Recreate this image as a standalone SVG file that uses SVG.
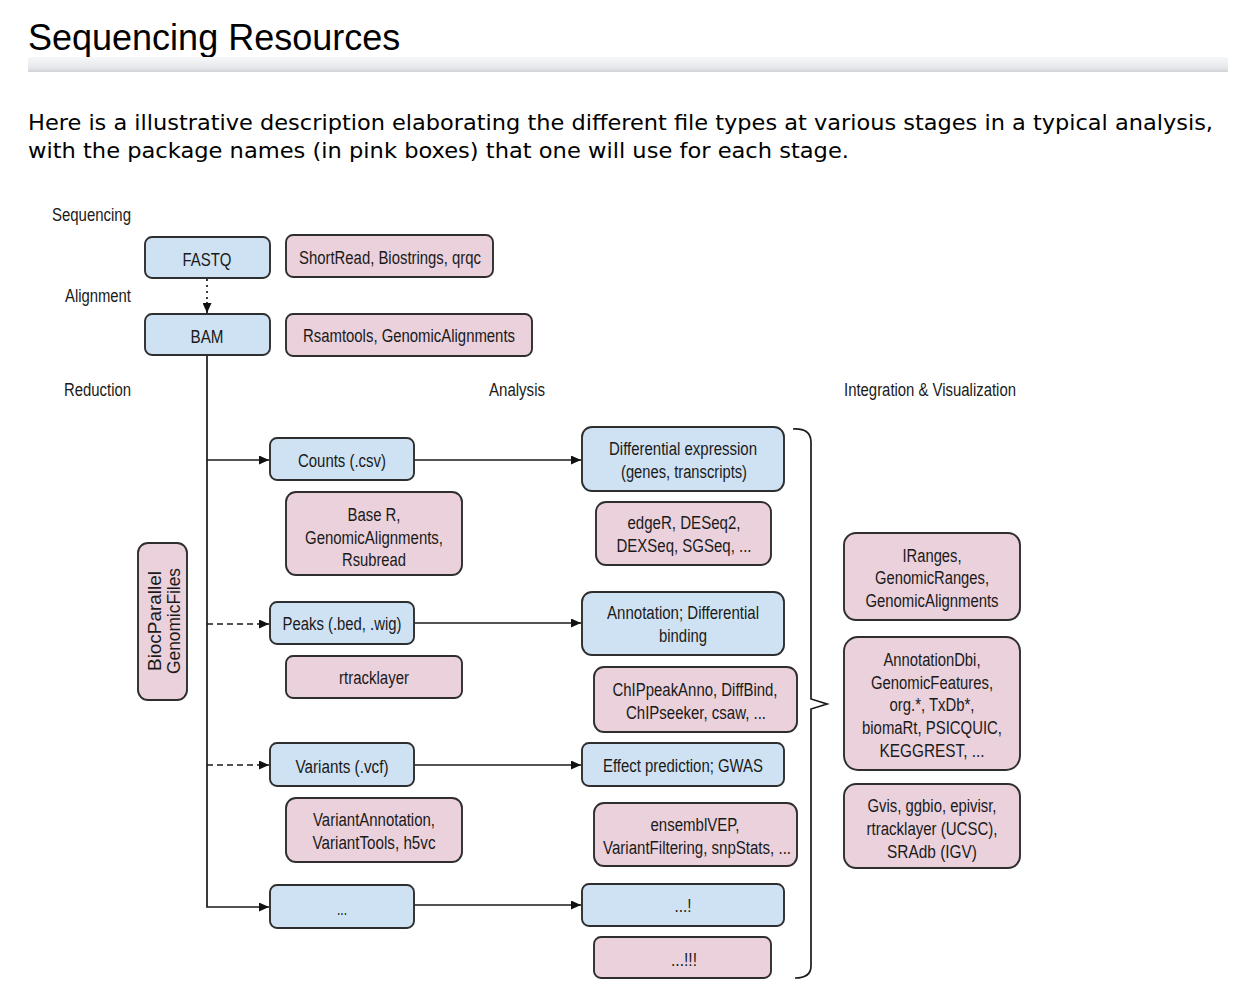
<svg xmlns="http://www.w3.org/2000/svg" width="1260" height="998" viewBox="0 0 1260 998">
<style>
.bg{fill:#ffffff}
.title{font-family:"Liberation Sans",Arial,sans-serif;font-size:36px;fill:#000}
.para{font-family:"DejaVu Sans",Verdana,sans-serif;font-size:21px;fill:#000}
.t{font-family:"Liberation Sans",Arial,sans-serif;font-size:18px;fill:#1a1a1a;text-anchor:middle}
.lab{font-family:"Liberation Sans",Arial,sans-serif;font-size:18px;fill:#1a1a1a}
.blue{fill:#cfe2f3;stroke:#2e2e2e;stroke-width:1.9}
.pink{fill:#ead1dc;stroke:#2e2e2e;stroke-width:1.9}
.ln{stroke:#1a1a1a;stroke-width:1.7;fill:none}
.dash{stroke:#1a1a1a;stroke-width:1.7;fill:none;stroke-dasharray:6 4}
.dot{stroke:#1a1a1a;stroke-width:1.7;fill:none;stroke-dasharray:2 4}
</style>
<defs>
<linearGradient id="rule" x1="0" y1="0" x2="0" y2="1">
<stop offset="0" stop-color="#f7f8f9"/>
<stop offset="0.75" stop-color="#e4e7ea"/>
<stop offset="1" stop-color="#cfd3d7"/>
</linearGradient>
<marker id="ah" viewBox="0 0 10 10" refX="10" refY="5" markerWidth="10" markerHeight="9" markerUnits="userSpaceOnUse" orient="auto" preserveAspectRatio="none">
<path d="M0,0 L10,5 L0,10 z" fill="#111"/>
</marker>
</defs>
<rect class="bg" x="0" y="0" width="1260" height="998"/>

<g id="header">
<text class="title" x="28" y="50">Sequencing Resources</text>
<rect x="28" y="57" width="1200" height="15" fill="url(#rule)"/>
<text class="para" x="28" y="130" textLength="1185" lengthAdjust="spacingAndGlyphs">Here is a illustrative description elaborating the different file types at various stages in a typical analysis,</text>
<text class="para" x="28" y="158" textLength="821" lengthAdjust="spacingAndGlyphs">with the package names (in pink boxes) that one will use for each stage.</text>
</g>

<g id="stage-labels">
<text class="lab" x="52" y="221" textLength="79" lengthAdjust="spacingAndGlyphs">Sequencing</text>
<text class="lab" x="65" y="302" textLength="66" lengthAdjust="spacingAndGlyphs">Alignment</text>
<text class="lab" x="64" y="396" textLength="67" lengthAdjust="spacingAndGlyphs">Reduction</text>
<text class="lab" x="489" y="396" textLength="56" lengthAdjust="spacingAndGlyphs">Analysis</text>
<text class="lab" x="844" y="396" textLength="172" lengthAdjust="spacingAndGlyphs">Integration &amp; Visualization</text>
</g>

<g id="connectors">
<path class="dot" d="M207,279 L207,302"/>
<path class="ln" d="M207,302 L207,313" marker-end="url(#ah)"/>
<path class="ln" d="M207,356 L207,907 L269,907" marker-end="url(#ah)"/>
<path class="ln" d="M207,460 L269,460" marker-end="url(#ah)"/>
<path class="dash" d="M207,624 L269,624" marker-end="url(#ah)"/>
<path class="dash" d="M207,765 L269,765" marker-end="url(#ah)"/>
<path class="ln" d="M414,460 L581,460" marker-end="url(#ah)"/>
<path class="ln" d="M414,623 L581,623" marker-end="url(#ah)"/>
<path class="ln" d="M414,765 L581,765" marker-end="url(#ah)"/>
<path class="ln" d="M414,905 L581,905" marker-end="url(#ah)"/>
<path class="ln" stroke-width="2" d="M793,429 Q811,428 811,442 L811,699 L827,704 L811,709 L811,966 Q811,978 795,978"/>
</g>

<g id="fastq"><rect class="blue" x="145" y="237" width="125" height="41" rx="7"/><text class="t" x="207" y="266" textLength="49" lengthAdjust="spacingAndGlyphs">FASTQ</text></g>
<g id="fastq-pkgs"><rect class="pink" x="286" y="235" width="207" height="42" rx="7"/><text class="t" x="390" y="264" textLength="182" lengthAdjust="spacingAndGlyphs">ShortRead, Biostrings, qrqc</text></g>
<g id="bam"><rect class="blue" x="145" y="314" width="125" height="41" rx="7"/><text class="t" x="207" y="343" textLength="33" lengthAdjust="spacingAndGlyphs">BAM</text></g>
<g id="bam-pkgs"><rect class="pink" x="286" y="314" width="246" height="42" rx="7"/><text class="t" x="409" y="342" textLength="212" lengthAdjust="spacingAndGlyphs">Rsamtools, GenomicAlignments</text></g>

<g id="biocparallel"><rect class="pink" x="138" y="543" width="49" height="157" rx="10"/>
<text class="t" transform="translate(161,621) rotate(-90)" textLength="100" lengthAdjust="spacingAndGlyphs">BiocParallel</text>
<text class="t" transform="translate(180,621) rotate(-90)" textLength="106" lengthAdjust="spacingAndGlyphs">GenomicFiles</text></g>

<g id="counts"><rect class="blue" x="270" y="438" width="144" height="42" rx="7"/><text class="t" x="342" y="467" textLength="88" lengthAdjust="spacingAndGlyphs">Counts (.csv)</text></g>
<g id="counts-pkgs"><rect class="pink" x="286" y="492" width="176" height="83" rx="10"/>
<text class="t" x="374" y="521" textLength="53" lengthAdjust="spacingAndGlyphs">Base R,</text>
<text class="t" x="374" y="544" textLength="138" lengthAdjust="spacingAndGlyphs">GenomicAlignments,</text>
<text class="t" x="374" y="566" textLength="64" lengthAdjust="spacingAndGlyphs">Rsubread</text></g>
<g id="diffexp"><rect class="blue" x="582" y="427" width="202" height="64" rx="10"/>
<text class="t" x="683" y="455" textLength="148" lengthAdjust="spacingAndGlyphs">Differential expression</text>
<text class="t" x="684" y="478" textLength="126" lengthAdjust="spacingAndGlyphs">(genes, transcripts)</text></g>
<g id="diffexp-pkgs"><rect class="pink" x="596" y="502" width="175" height="63" rx="10"/>
<text class="t" x="684" y="529" textLength="113" lengthAdjust="spacingAndGlyphs">edgeR, DESeq2,</text>
<text class="t" x="684" y="552" textLength="135" lengthAdjust="spacingAndGlyphs">DEXSeq, SGSeq, ...</text></g>

<g id="peaks"><rect class="blue" x="270" y="602" width="144" height="42" rx="7"/><text class="t" x="342" y="630" textLength="119" lengthAdjust="spacingAndGlyphs">Peaks (.bed, .wig)</text></g>
<g id="peaks-pkgs"><rect class="pink" x="286" y="656" width="176" height="42" rx="7"/><text class="t" x="374" y="684" textLength="70" lengthAdjust="spacingAndGlyphs">rtracklayer</text></g>
<g id="annotation"><rect class="blue" x="582" y="592" width="202" height="63" rx="10"/>
<text class="t" x="683" y="619" textLength="152" lengthAdjust="spacingAndGlyphs">Annotation; Differential</text>
<text class="t" x="683" y="642" textLength="48" lengthAdjust="spacingAndGlyphs">binding</text></g>
<g id="annotation-pkgs"><rect class="pink" x="594" y="667" width="203" height="65" rx="10"/>
<text class="t" x="695" y="696" textLength="165" lengthAdjust="spacingAndGlyphs">ChIPpeakAnno, DiffBind,</text>
<text class="t" x="696" y="719" textLength="140" lengthAdjust="spacingAndGlyphs">ChIPseeker, csaw, ...</text></g>

<g id="variants"><rect class="blue" x="270" y="743" width="144" height="43" rx="7"/><text class="t" x="342" y="773" textLength="93" lengthAdjust="spacingAndGlyphs">Variants (.vcf)</text></g>
<g id="variants-pkgs"><rect class="pink" x="286" y="798" width="176" height="64" rx="10"/>
<text class="t" x="374" y="826" textLength="122" lengthAdjust="spacingAndGlyphs">VariantAnnotation,</text>
<text class="t" x="374" y="849" textLength="123" lengthAdjust="spacingAndGlyphs">VariantTools, h5vc</text></g>
<g id="effect"><rect class="blue" x="582" y="743" width="202" height="43" rx="7"/><text class="t" x="683" y="772" textLength="160" lengthAdjust="spacingAndGlyphs">Effect prediction; GWAS</text></g>
<g id="effect-pkgs"><rect class="pink" x="594" y="803" width="203" height="63" rx="10"/>
<text class="t" x="695" y="831" textLength="89" lengthAdjust="spacingAndGlyphs">ensemblVEP,</text>
<text class="t" x="697" y="854" textLength="188" lengthAdjust="spacingAndGlyphs">VariantFiltering, snpStats, ...</text></g>

<g id="more"><rect class="blue" x="270" y="885" width="144" height="43" rx="7"/><text class="t" x="342" y="915" textLength="10" lengthAdjust="spacingAndGlyphs">...</text></g>
<g id="more-analysis"><rect class="blue" x="582" y="884" width="202" height="42" rx="7"/><text class="t" x="683" y="912" textLength="17" lengthAdjust="spacingAndGlyphs">...!</text></g>
<g id="more-pkgs"><rect class="pink" x="594" y="937" width="177" height="41" rx="7"/><text class="t" x="684" y="966" textLength="26" lengthAdjust="spacingAndGlyphs">...!!!</text></g>

<g id="ranges-pkgs"><rect class="pink" x="844" y="533" width="176" height="87" rx="12"/>
<text class="t" x="932" y="562" textLength="59" lengthAdjust="spacingAndGlyphs">IRanges,</text>
<text class="t" x="932" y="584" textLength="114" lengthAdjust="spacingAndGlyphs">GenomicRanges,</text>
<text class="t" x="932" y="607" textLength="133" lengthAdjust="spacingAndGlyphs">GenomicAlignments</text></g>
<g id="annot-db-pkgs"><rect class="pink" x="844" y="637" width="176" height="133" rx="14"/>
<text class="t" x="932" y="666" textLength="97" lengthAdjust="spacingAndGlyphs">AnnotationDbi,</text>
<text class="t" x="932" y="689" textLength="122" lengthAdjust="spacingAndGlyphs">GenomicFeatures,</text>
<text class="t" x="932" y="711" textLength="85" lengthAdjust="spacingAndGlyphs">org.*, TxDb*,</text>
<text class="t" x="932" y="734" textLength="140" lengthAdjust="spacingAndGlyphs">biomaRt, PSICQUIC,</text>
<text class="t" x="932" y="757" textLength="105" lengthAdjust="spacingAndGlyphs">KEGGREST, ...</text></g>
<g id="vis-pkgs"><rect class="pink" x="844" y="784" width="176" height="84" rx="12"/>
<text class="t" x="932" y="812" textLength="129" lengthAdjust="spacingAndGlyphs">Gvis, ggbio, epivisr,</text>
<text class="t" x="932" y="835" textLength="131" lengthAdjust="spacingAndGlyphs">rtracklayer (UCSC),</text>
<text class="t" x="932" y="858" textLength="90" lengthAdjust="spacingAndGlyphs">SRAdb (IGV)</text></g>
</svg>
